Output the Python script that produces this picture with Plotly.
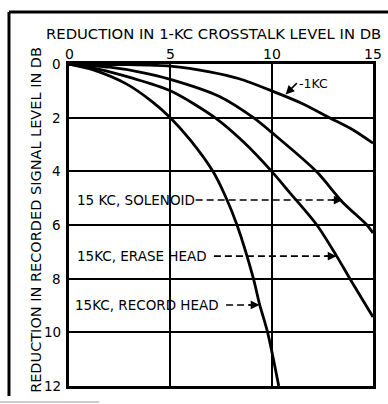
import plotly.graph_objects as go

# Reduction in 1-kc crosstalk level (dB) vs reduction in recorded signal level (dB)
kc1_x = [0, 2.5, 5, 7, 8.4, 10, 11.5, 12.85, 14, 15]
kc1_y = [0, 0.02, 0.08, 0.3, 0.55, 1.0, 1.47, 2.0, 2.45, 2.95]

solenoid_x = [0, 2, 3.5, 5, 7.4, 9.1, 10, 12.2, 13.5, 14.7, 15]
solenoid_y = [0, 0.12, 0.3, 0.57, 1.2, 2.0, 2.55, 4.0, 5.15, 6.0, 6.3]

erase_x = [0, 1.5, 3, 5, 7.2, 8.6, 10, 10.9, 12.23, 13.2, 13.86, 15]
erase_y = [0, 0.2, 0.5, 1.0, 2.0, 2.9, 4.0, 4.8, 6.0, 7.15, 8.0, 9.43]

record_x = [0, 1.2, 2.85, 4.1, 5, 6, 7.1, 7.7, 8.29, 9.1, 9.4, 9.8, 10.35]
record_y = [0, 0.22, 0.75, 1.4, 2.0, 2.85, 4.0, 4.9, 6.0, 8.0, 8.95, 10.0, 12.0]

x_ticks = [0, 5, 10, 15]
y_ticks = [0, 2, 4, 6, 8, 10, 12]

x_title = "REDUCTION IN 1-KC CROSSTALK LEVEL IN DB"
y_title = "REDUCTION IN RECORDED SIGNAL LEVEL IN DB"

# label text, label start x, label y, dash start x, arrow tip x
pointers = [
    ("15 KC, SOLENOID", 0.3, 5.07, 6.25, 13.5),
    ("15KC, ERASE HEAD", 0.3, 7.16, 7.15, 13.2),
    ("15KC, RECORD HEAD", 0.2, 8.98, 7.75, 9.4),
]

FONT = "DejaVu Sans"
INK = "black"

fig = go.Figure()

for xs, ys in [(kc1_x, kc1_y), (solenoid_x, solenoid_y), (erase_x, erase_y), (record_x, record_y)]:
    fig.add_trace(go.Scatter(
        x=xs, y=ys, mode="lines",
        line=dict(color=INK, width=2.8, shape="spline", smoothing=0.8),
        hoverinfo="skip", showlegend=False,
    ))

annotations = []
for text, tx, ty, dx0, tip in pointers:
    annotations.append(dict(
        x=tx, y=ty, xref="x", yref="y", text=text, showarrow=False,
        xanchor="left", yanchor="middle",
        font=dict(family=FONT, size=13.5, color=INK),
    ))
    fig.add_trace(go.Scatter(
        x=[dx0, tip - 0.25], y=[ty, ty], mode="lines",
        line=dict(color=INK, width=1.6, dash="7px,4px"),
        hoverinfo="skip", showlegend=False,
    ))
    annotations.append(dict(
        x=tip, y=ty, xref="x", yref="y", ax=tip - 0.6, ay=ty,
        axref="x", ayref="y", text="", showarrow=True,
        arrowhead=2, arrowsize=1.1, arrowwidth=1.6, arrowcolor=INK,
    ))

# 1-kc curve label with leader arrow
annotations.append(dict(
    x=10.65, y=1.16, xref="x", yref="y", ax=12, ay=-12,
    text="-1KC", showarrow=True, arrowhead=2, arrowsize=1.1,
    arrowwidth=1.6, arrowcolor=INK, standoff=1,
    font=dict(family=FONT, size=12.5, color=INK), xanchor="left",
))

# tick labels placed just outside the frame
for v in x_ticks:
    annotations.append(dict(
        x=v, y=1.03, xref="x", yref="paper", text=str(v), showarrow=False,
        xanchor="center", yanchor="middle",
        font=dict(family=FONT, size=14, color=INK),
    ))
for v in y_ticks:
    annotations.append(dict(
        x=-0.02, y=v, xref="paper", yref="y", text=str(v), showarrow=False,
        xanchor="right", yanchor="middle",
        font=dict(family=FONT, size=13.5, color=INK),
    ))

# axis titles
annotations.append(dict(
    x=0.475, y=1.095, xref="paper", yref="paper", text=x_title,
    showarrow=False, xanchor="center", yanchor="middle",
    font=dict(family=FONT, size=14.8, color=INK),
))
annotations.append(dict(
    x=-0.109, y=0.5155, xref="paper", yref="paper", text=y_title,
    showarrow=False, xanchor="center", yanchor="middle", textangle=-90,
    font=dict(family=FONT, size=14.5, color=INK),
))

# outer frame of the figure
shapes = [
    dict(type="line", xref="paper", yref="paper", x0=-0.1974, x1=-0.1974,
         y0=1.1615, y1=-0.031, line=dict(color=INK, width=3)),
    dict(type="line", xref="paper", yref="paper", x0=-0.1974, x1=1.06,
         y0=1.1615, y1=1.1615, line=dict(color=INK, width=3)),
    dict(type="line", xref="paper", yref="paper", x0=-0.23, x1=0.1,
         y0=-0.0497, y1=-0.0497, line=dict(color="#9a9a9a", width=1)),
]

fig.update_layout(
    width=388, height=404,
    margin=dict(l=69, r=15, t=64, b=18),
    paper_bgcolor="white", plot_bgcolor="white",
    showlegend=False,
    annotations=annotations,
    shapes=shapes,
    xaxis=dict(
        range=[0, 15], tickvals=x_ticks, showticklabels=False,
        showgrid=True, gridcolor=INK, gridwidth=2,
        showline=True, mirror=True, linecolor=INK, linewidth=2.5,
        zeroline=False, ticks="", fixedrange=True,
    ),
    yaxis=dict(
        range=[12, 0], tickvals=y_ticks, showticklabels=False,
        showgrid=True, gridcolor=INK, gridwidth=2,
        showline=True, mirror=True, linecolor=INK, linewidth=2.5,
        zeroline=False, ticks="", fixedrange=True,
    ),
)

fig.write_html("out.html")
